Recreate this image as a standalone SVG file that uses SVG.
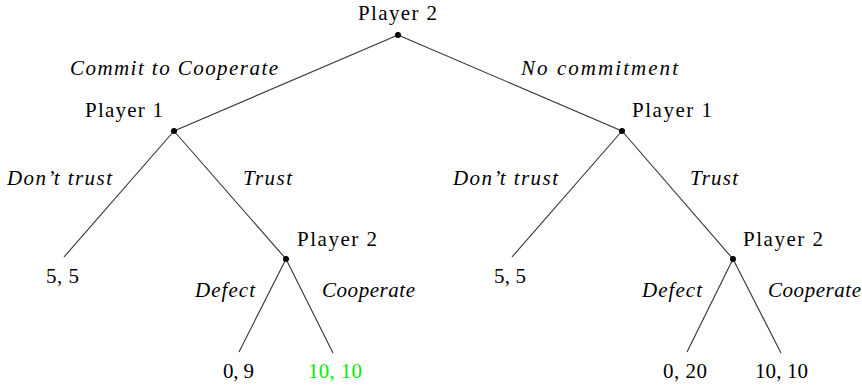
<svg xmlns="http://www.w3.org/2000/svg" width="862" height="385" viewBox="0 0 862 385">
<style>
text{font-family:"Liberation Serif","Times New Roman",serif;font-size:21px;fill:#000}
.e{font-style:italic}
.g{fill:#00ee00}
line{stroke:#333;stroke-width:1.1}
circle{fill:#000}
</style>
<rect width="862" height="385" fill="#fff"/>
<g id="connectors">
<line x1="398" y1="35" x2="174" y2="131"/>
<line x1="398" y1="35" x2="622" y2="131"/>
<line x1="174" y1="131" x2="64" y2="257"/>
<line x1="174" y1="131" x2="286" y2="259"/>
<line x1="286" y1="259" x2="239" y2="352"/>
<line x1="286" y1="259" x2="333" y2="353"/>
<line x1="622" y1="131" x2="512" y2="257"/>
<line x1="622" y1="131" x2="733" y2="259"/>
<line x1="733" y1="259" x2="687" y2="352"/>
<line x1="733" y1="259" x2="781" y2="353"/>
<text class="e" x="70" y="75" textLength="208" lengthAdjust="spacing">Commit to Cooperate</text>
<text class="e" x="521" y="75" textLength="157" lengthAdjust="spacing">No commitment</text>
<text class="e" x="7" y="185" textLength="105" lengthAdjust="spacing">Don’t trust</text>
<text class="e" x="243" y="185" textLength="49" lengthAdjust="spacing">Trust</text>
<text class="e" x="453" y="185" textLength="105" lengthAdjust="spacing">Don’t trust</text>
<text class="e" x="690" y="185" textLength="48" lengthAdjust="spacing">Trust</text>
<text class="e" x="195" y="297" textLength="60" lengthAdjust="spacing">Defect</text>
<text class="e" x="322" y="297" textLength="93" lengthAdjust="spacing">Cooperate</text>
<text class="e" x="642" y="297" textLength="60" lengthAdjust="spacing">Defect</text>
<text class="e" x="768" y="297" textLength="93" lengthAdjust="spacing">Cooperate</text>
</g>
<g id="root">
<circle cx="398" cy="35" r="3"/>
<text x="358" y="20" textLength="79" lengthAdjust="spacing">Player 2</text>
</g>
<g id="p1-left">
<circle cx="174" cy="131" r="3"/>
<text x="85" y="117" textLength="78" lengthAdjust="spacing">Player 1</text>
</g>
<g id="p1-right">
<circle cx="622" cy="131" r="3"/>
<text x="632" y="117" textLength="80" lengthAdjust="spacing">Player 1</text>
</g>
<g id="p2-left">
<circle cx="286" cy="259" r="3"/>
<text x="297" y="246" textLength="80" lengthAdjust="spacing">Player 2</text>
</g>
<g id="p2-right">
<circle cx="733" cy="259" r="3"/>
<text x="743" y="246" textLength="80" lengthAdjust="spacing">Player 2</text>
</g>
<g id="leaf-left-dt"><text x="46" y="283" textLength="33" lengthAdjust="spacing">5, 5</text></g>
<g id="leaf-left-defect"><text x="223" y="378" textLength="31" lengthAdjust="spacing">0, 9</text></g>
<g id="leaf-left-coop"><text class="g" x="308" y="378" textLength="54" lengthAdjust="spacing">10, 10</text></g>
<g id="leaf-right-dt"><text x="494" y="283" textLength="32" lengthAdjust="spacing">5, 5</text></g>
<g id="leaf-right-defect"><text x="663" y="378" textLength="44" lengthAdjust="spacing">0, 20</text></g>
<g id="leaf-right-coop"><text x="755" y="378" textLength="53" lengthAdjust="spacing">10, 10</text></g>
</svg>
